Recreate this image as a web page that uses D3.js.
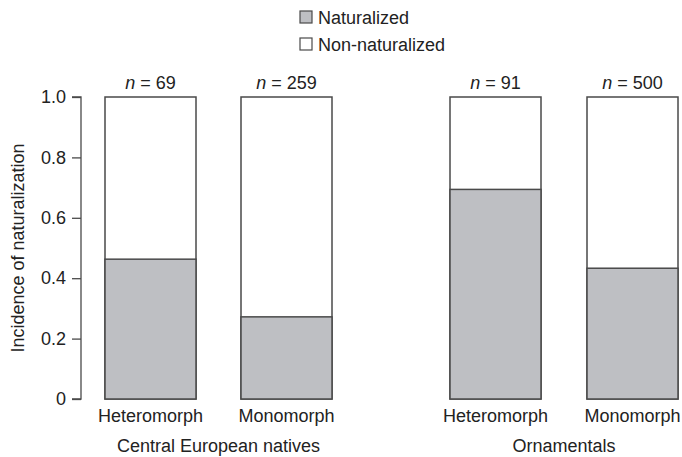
<!DOCTYPE html>
<html>
<head>
<meta charset="utf-8">
<script src="https://cdn.jsdelivr.net/npm/d3@7"></script>
<style>
  body { margin: 0; background: #fff; }
  text { font-family: "Liberation Sans", Arial, sans-serif; fill: #222; }
</style>
</head>
<body>
<script>
// data
const groups = ["Central European natives", "Ornamentals"];
const bars = ["Heteromorph", "Monomorph", "Heteromorph", "Monomorph"];
const barGroup = [0, 0, 1, 1];
const naturalized = [0.463, 0.272, 0.694, 0.433];
const nCounts = [69, 259, 91, 500];
const yTicks = [0, 0.2, 0.4, 0.6, 0.8, 1.0];
const legendLabels = ["Naturalized", "Non-naturalized"];

const width = 682, height = 457;
const grey = "#bebfc3", edge = "#4a4a4a";
const fs = "18px";

const svg = d3.select("body").append("svg").attr("width", width).attr("height", height);

const y = d3.scaleLinear().domain([0, 1]).range([399, 97]);
// bar left edges, positions from the picture
const x = d3.scaleOrdinal().domain(d3.range(4)).range([105, 241, 450, 587]);
const bw = 91;

// y axis
const yAxis = d3.axisLeft(y).tickValues(yTicks).tickSize(9).tickPadding(6)
  .tickFormat(d => d === 0 ? "0" : d3.format(".1f")(d));
const ga = svg.append("g").attr("transform", "translate(81,0)").call(yAxis);
ga.select(".domain").attr("stroke", edge).attr("stroke-width", 1.3).attr("d", "M-9," + y(0) + "H0V" + y(1) + "H-9");
ga.selectAll(".tick line").attr("stroke", edge).attr("stroke-width", 1.3);
ga.selectAll(".tick text").style("font-size", fs).style("fill", "#222")
  .style("font-family", '"Liberation Sans", Arial, sans-serif');

svg.append("text").attr("transform", "translate(24," + y(0.5) + ") rotate(-90)")
  .attr("text-anchor", "middle").style("font-size", fs).text("Incidence of naturalization");

// stacked bars
const g = svg.selectAll(".bar").data(d3.range(4)).enter().append("g").attr("class", "bar");
g.append("rect").attr("x", i => x(i)).attr("width", bw)
  .attr("y", y(1)).attr("height", y(0) - y(1))
  .attr("fill", "#fff").attr("stroke", edge).attr("stroke-width", 1.5);
g.append("rect").attr("x", i => x(i)).attr("width", bw)
  .attr("y", i => y(naturalized[i])).attr("height", i => y(0) - y(naturalized[i]))
  .attr("fill", grey).attr("stroke", edge).attr("stroke-width", 1.5);

// n labels
const nl = g.append("text").attr("x", i => x(i) + bw / 2).attr("y", y(1) - 8)
  .attr("text-anchor", "middle").style("font-size", fs);
nl.append("tspan").style("font-style", "italic").text("n");
nl.append("tspan").text(i => " = " + nCounts[i]);

// category labels
g.append("text").attr("x", i => x(i) + bw / 2).attr("y", 422)
  .attr("text-anchor", "middle").style("font-size", fs).text(i => bars[i]);

// group labels
svg.selectAll(".grp").data(groups).enter().append("text").attr("class", "grp")
  .attr("x", (d, k) => {
    const idx = barGroup.map((b, i) => b === k ? i : -1).filter(i => i >= 0);
    return (x(idx[0]) + x(idx[idx.length - 1]) + bw) / 2;
  })
  .attr("y", 452).attr("text-anchor", "middle").style("font-size", fs).text(d => d);

// legend
const lg = svg.selectAll(".leg").data(legendLabels).enter().append("g").attr("class", "leg")
  .attr("transform", (d, i) => "translate(300," + (11 + i * 27) + ")");
lg.append("rect").attr("width", 12).attr("height", 12)
  .attr("fill", (d, i) => i === 0 ? grey : "#fff").attr("stroke", edge).attr("stroke-width", 1.2);
lg.append("text").attr("x", 18).attr("y", 12.5).style("font-size", fs).text(d => d);
</script>
</body>
</html>
